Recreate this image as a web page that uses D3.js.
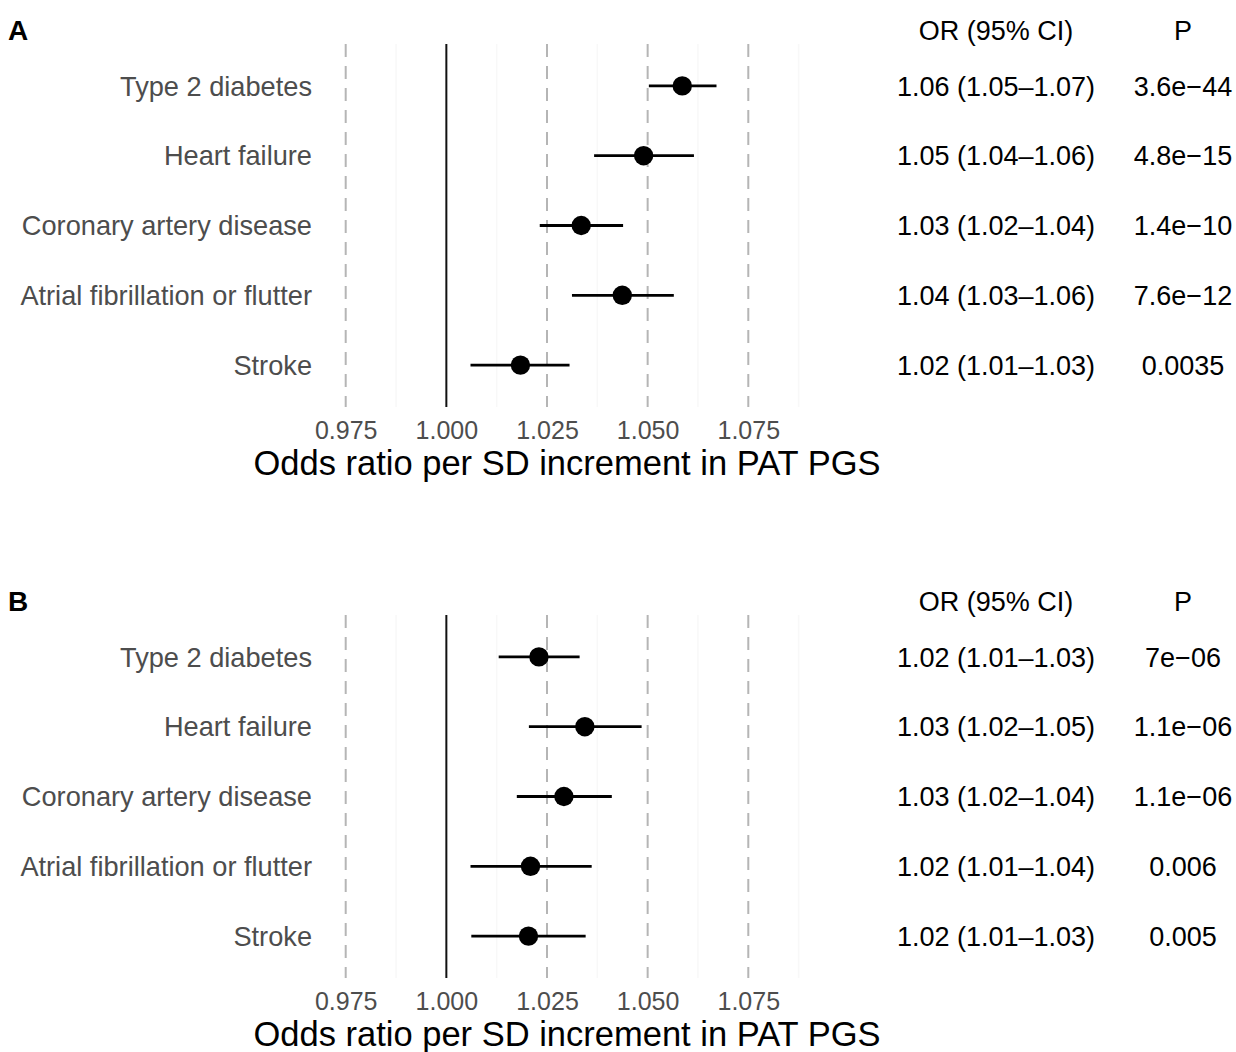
<!DOCTYPE html>
<html>
<head>
<meta charset="utf-8">
<script src="https://cdn.jsdelivr.net/npm/d3@7"></script>
<style>
  body { margin: 0; background: #fff; }
  svg { display: block; font-family: "Liberation Sans", Arial, Helvetica, sans-serif; }
</style>
</head>
<body>
<script>
const width = 1236;
const height = 1052;

const diseases = [
  "Type 2 diabetes",
  "Heart failure",
  "Coronary artery disease",
  "Atrial fibrillation or flutter",
  "Stroke",
];

// panel A
const orA = [1.0586, 1.049, 1.0335, 1.0437, 1.0184];
const loA = [1.0503, 1.0367, 1.0232, 1.0312, 1.006];
const hiA = [1.0671, 1.0615, 1.0439, 1.0565, 1.0306];
const orTextA = [
  "1.06 (1.05\u20131.07)",
  "1.05 (1.04\u20131.06)",
  "1.03 (1.02\u20131.04)",
  "1.04 (1.03\u20131.06)",
  "1.02 (1.01\u20131.03)",
];
const pTextA = ["3.6e\u221244", "4.8e\u221215", "1.4e\u221210", "7.6e\u221212", "0.0035"];

// panel B
const orB = [1.023, 1.0344, 1.0292, 1.0209, 1.0204];
const loB = [1.013, 1.0205, 1.0175, 1.006, 1.0062];
const hiB = [1.0331, 1.0485, 1.0411, 1.0361, 1.0346];
const orTextB = [
  "1.02 (1.01\u20131.03)",
  "1.03 (1.02\u20131.05)",
  "1.03 (1.02\u20131.04)",
  "1.02 (1.01\u20131.04)",
  "1.02 (1.01\u20131.03)",
];
const pTextB = ["7e\u221206", "1.1e\u221206", "1.1e\u221206", "0.006", "0.005"];

const xTicks = [0.975, 1.0, 1.025, 1.05, 1.075];
const xMinor = [0.9875, 1.0125, 1.0375, 1.0625, 1.0875];

const svg = d3
  .select("body")
  .append("svg")
  .attr("width", width)
  .attr("height", height)
  .attr("viewBox", [0, 0, width, height]);

const x = d3.scaleLinear().domain([0.975, 1.075]).range([345.7, 748.3]);

function drawPanel(label, top, or, lo, hi, orText, pText) {
  const g = svg.append("g").attr("transform", "translate(0," + top + ")");
  const plotTop = 44;
  const plotBottom = 407;

  const y = d3
    .scalePoint()
    .domain(diseases)
    .range([plotTop, plotBottom])
    .padding(0.6);

  const rows = diseases.map((d, i) => ({
    name: d,
    or: or[i],
    lo: lo[i],
    hi: hi[i],
    orText: orText[i],
    p: pText[i],
  }));

  g.append("text")
    .attr("x", 8)
    .attr("y", 40)
    .attr("font-size", "28px")
    .attr("font-weight", "bold")
    .text(label);

  // faint minor grid
  g.selectAll(".minor")
    .data(xMinor)
    .enter()
    .append("line")
    .attr("x1", (d) => x(d))
    .attr("x2", (d) => x(d))
    .attr("y1", plotTop)
    .attr("y2", plotBottom)
    .attr("stroke", "#f8f8f8")
    .attr("stroke-width", 1.5);

  // dashed reference lines
  g.selectAll(".dash")
    .data(xTicks.filter((d) => d !== 1))
    .enter()
    .append("line")
    .attr("x1", (d) => x(d))
    .attr("x2", (d) => x(d))
    .attr("y1", plotTop)
    .attr("y2", plotBottom)
    .attr("stroke", "#b5b5b5")
    .attr("stroke-width", 2)
    .attr("stroke-dasharray", "13,9");

  g.append("line")
    .attr("x1", x(1))
    .attr("x2", x(1))
    .attr("y1", plotTop)
    .attr("y2", plotBottom)
    .attr("stroke", "#111")
    .attr("stroke-width", 2);

  // x axis labels
  const axis = g
    .append("g")
    .attr("transform", "translate(0," + plotBottom + ")")
    .call(
      d3
        .axisBottom(x)
        .tickValues(xTicks)
        .tickSize(0)
        .tickPadding(14)
        .tickFormat(d3.format(".3f"))
    );
  axis.select(".domain").remove();
  axis
    .selectAll("text")
    .attr("font-family", null)
    .attr("font-size", "25px")
    .attr("fill", "#4d4d4d")
    .attr("dy", "0.71em");

  g.append("text")
    .attr("x", 567)
    .attr("y", 475)
    .attr("text-anchor", "middle")
    .attr("font-size", "34.5px")
    .attr("fill", "#000")
    .text("Odds ratio per SD increment in PAT PGS");

  // row labels
  g.selectAll(".ylab")
    .data(rows)
    .enter()
    .append("text")
    .attr("x", 312)
    .attr("y", (d) => y(d.name))
    .attr("dy", "0.36em")
    .attr("text-anchor", "end")
    .attr("font-size", "27.2px")
    .attr("fill", "#4d4d4d")
    .text((d) => d.name);

  // CI bars
  g.selectAll(".ci")
    .data(rows)
    .enter()
    .append("line")
    .attr("x1", (d) => x(d.lo))
    .attr("x2", (d) => x(d.hi))
    .attr("y1", (d) => y(d.name))
    .attr("y2", (d) => y(d.name))
    .attr("stroke", "#000")
    .attr("stroke-width", 2.8);

  g.selectAll(".pt")
    .data(rows)
    .enter()
    .append("circle")
    .attr("cx", (d) => x(d.or))
    .attr("cy", (d) => y(d.name))
    .attr("r", 9.7)
    .attr("fill", "#000");

  // table
  g.append("text")
    .attr("x", 996)
    .attr("y", 30)
    .attr("dy", "0.36em")
    .attr("text-anchor", "middle")
    .attr("font-size", "27px")
    .text("OR (95% CI)");

  g.append("text")
    .attr("x", 1183)
    .attr("y", 30)
    .attr("dy", "0.36em")
    .attr("text-anchor", "middle")
    .attr("font-size", "27px")
    .text("P");

  g.selectAll(".ortxt")
    .data(rows)
    .enter()
    .append("text")
    .attr("x", 996)
    .attr("y", (d) => y(d.name))
    .attr("dy", "0.36em")
    .attr("text-anchor", "middle")
    .attr("font-size", "27px")
    .text((d) => d.orText);

  g.selectAll(".ptxt")
    .data(rows)
    .enter()
    .append("text")
    .attr("x", 1183)
    .attr("y", (d) => y(d.name))
    .attr("dy", "0.36em")
    .attr("text-anchor", "middle")
    .attr("font-size", "27px")
    .text((d) => d.p);
}

drawPanel("A", 0, orA, loA, hiA, orTextA, pTextA);
drawPanel("B", 571, orB, loB, hiB, orTextB, pTextB);
</script>
</body>
</html>
